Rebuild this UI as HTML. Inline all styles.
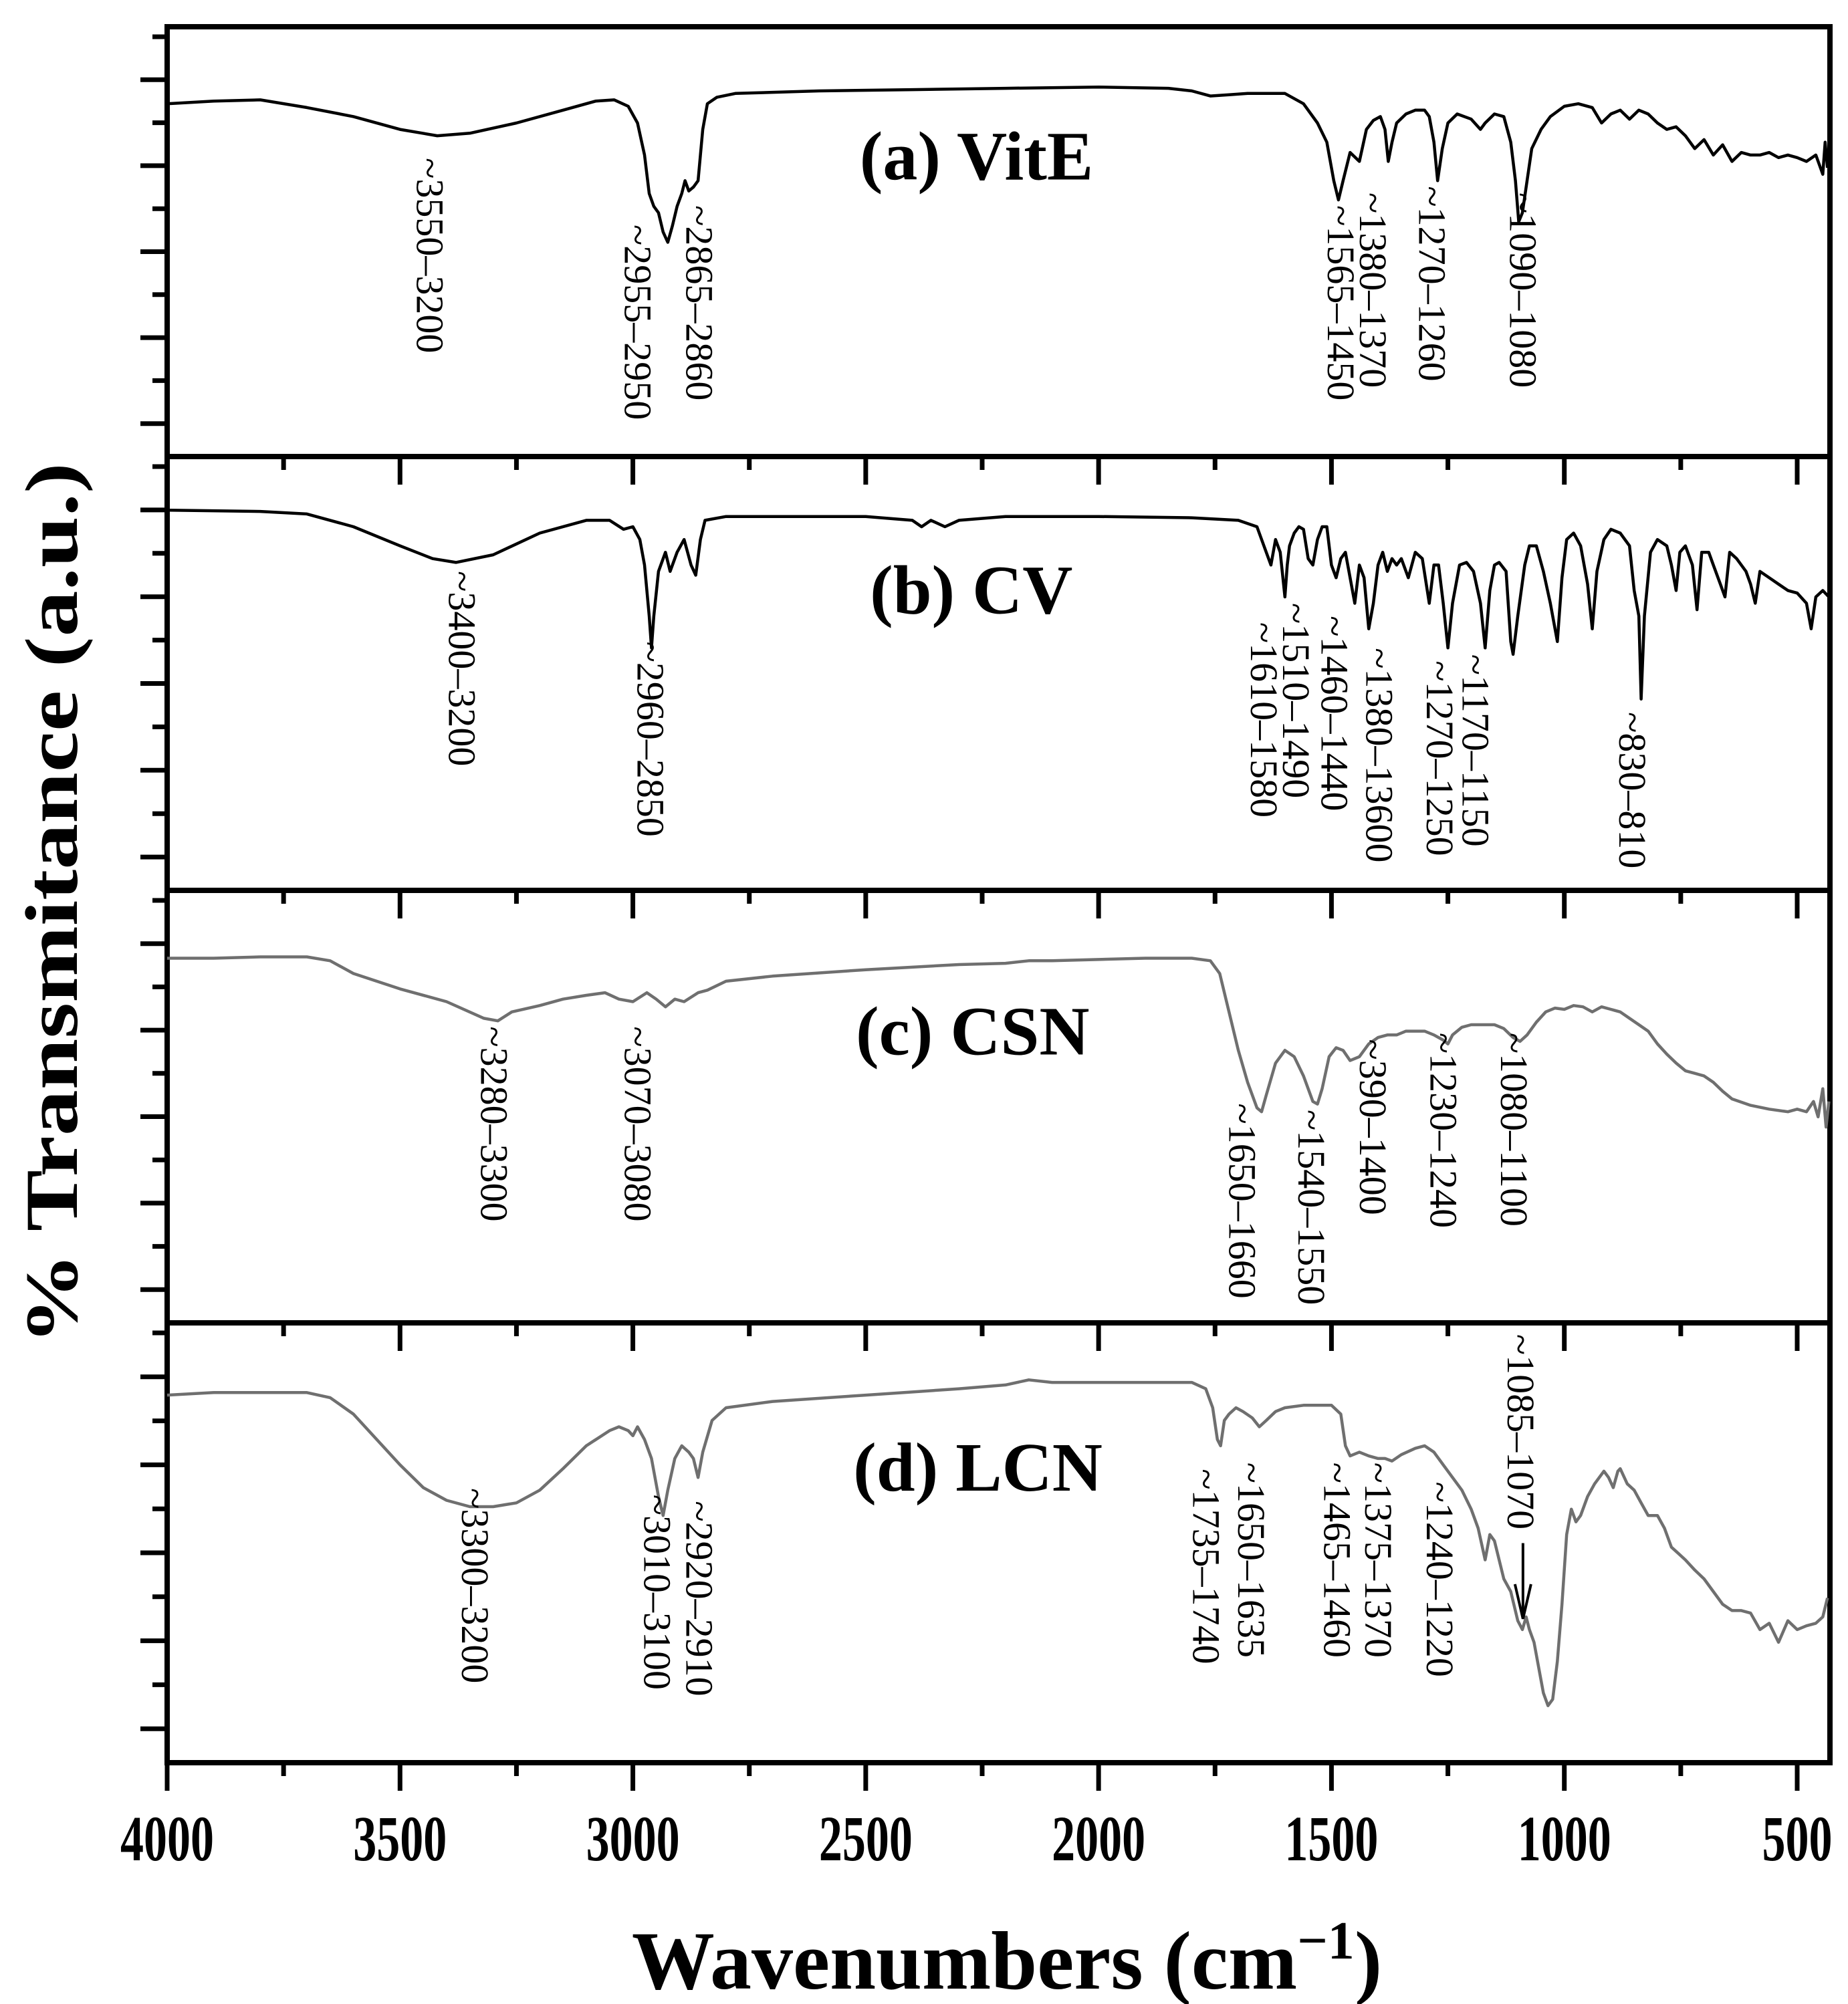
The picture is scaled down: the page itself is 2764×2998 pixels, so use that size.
<!DOCTYPE html>
<html><head><meta charset="utf-8"><style>
html,body{margin:0;padding:0;background:#fff;}
svg{display:block;}
text{font-family:"Liberation Serif",serif;fill:#000;}
</style></head><body>
<svg id="chart" width="2764" height="2998" viewBox="0 0 2764 2998" xmlns="http://www.w3.org/2000/svg">
<g id="frames"></g>
<g id="curves"></g>
<g id="ticks"></g>
<g id="labels"></g>
</svg>
<script>
// ---- data (wavenumber in cm-1, transmittance in a.u.) ----
const xTicks = [4000, 3500, 3000, 2500, 2000, 1500, 1000, 500];
const panelNames = ["(a) VitE", "(b) CV", "(c) CSN", "(d) LCN"];
const wnA = [4000,3900,3800,3700,3600,3500,3420,3350,3250,3150,3080,3040,3010,2990,2975,2965,2955,2945,2935,2925,2915,2905,2895,2888,2880,2870,2860,2850,2840,2820,2780,2600,2400,2200,2000,1850,1800,1760,1720,1680,1600,1560,1530,1510,1495,1485,1475,1460,1440,1425,1410,1395,1385,1378,1370,1360,1340,1320,1300,1290,1280,1272,1262,1250,1230,1200,1180,1170,1150,1130,1115,1105,1098,1090,1080,1070,1050,1030,1000,970,940,920,900,880,860,840,820,800,780,760,740,720,700,680,660,640,620,600,580,560,540,520,500,480,460,445,440,435];
const tA = [275,277,278,272,265,255,250,252,260,270,277,278,273,260,235,205,195,190,175,167,180,195,205,215,207,210,215,255,275,280,283,285,286,287,288,287,285,281,282,283,283,275,260,245,215,200,215,237,230,255,262,265,255,230,245,260,267,270,270,265,245,215,240,260,267,263,255,260,267,265,245,215,183,190,215,240,255,265,273,275,272,260,267,270,263,270,267,260,255,257,250,240,247,235,243,230,237,235,235,237,233,235,233,230,235,220,245,225];
const wnB = [4000,3800,3700,3600,3500,3430,3380,3300,3200,3100,3050,3020,3000,2985,2975,2965,2960,2955,2945,2930,2920,2905,2890,2875,2865,2855,2845,2800,2700,2500,2400,2380,2360,2330,2300,2200,2000,1800,1700,1660,1645,1630,1620,1610,1600,1595,1590,1580,1570,1560,1550,1540,1530,1520,1510,1500,1490,1480,1470,1460,1450,1440,1430,1420,1410,1400,1390,1380,1370,1360,1350,1335,1320,1305,1290,1280,1270,1260,1250,1240,1225,1210,1195,1180,1170,1160,1150,1140,1125,1115,1110,1100,1085,1075,1060,1045,1030,1015,1005,995,980,965,950,940,930,915,900,880,860,850,840,835,828,815,800,780,770,760,752,740,725,715,705,690,680,665,655,645,630,610,600,590,580,560,540,520,500,480,470,460,445,432];
const tB = [298,297,295,285,270,260,257,263,280,290,290,283,285,275,255,215,190,215,250,265,250,265,275,255,247,275,290,293,293,293,290,285,290,285,290,293,293,292,290,285,270,255,275,265,230,255,270,280,285,283,260,255,275,285,285,255,245,260,265,245,225,255,245,205,225,255,265,250,260,255,260,245,265,260,225,255,255,225,190,225,255,257,250,225,190,235,255,257,250,195,185,215,255,270,270,250,225,195,245,275,280,270,240,205,250,275,283,280,270,235,215,150,215,265,275,270,255,235,265,270,255,220,265,265,255,240,230,265,260,250,240,225,250,245,240,235,233,225,205,230,235,230];
const wnC = [4000,3900,3800,3700,3650,3600,3500,3400,3320,3290,3260,3200,3150,3100,3060,3030,3000,2970,2950,2930,2910,2890,2860,2840,2800,2700,2500,2300,2200,2150,2100,2000,1900,1800,1760,1740,1720,1700,1680,1660,1650,1640,1620,1600,1580,1560,1540,1530,1520,1505,1490,1475,1460,1440,1420,1400,1380,1360,1340,1300,1280,1260,1250,1240,1220,1200,1170,1150,1130,1110,1095,1080,1060,1040,1020,1000,980,960,940,920,900,880,860,840,820,800,780,760,740,720,700,680,660,640,600,560,520,500,480,465,455,445,438,432];
const tC = [285,285,286,286,283,273,261,251,238,236,243,248,253,256,258,253,251,258,253,247,253,251,258,260,267,271,276,280,281,283,283,284,285,285,283,273,243,213,188,168,165,178,203,213,208,193,173,171,183,208,215,213,205,208,218,223,225,225,228,228,225,221,218,225,231,233,233,233,230,223,220,225,235,243,246,245,248,247,243,247,245,243,238,233,228,218,210,203,197,195,193,188,181,175,170,167,165,167,165,173,161,183,153,173];
const wnD = [4000,3900,3800,3700,3650,3600,3550,3500,3450,3400,3350,3300,3250,3200,3150,3100,3050,3030,3010,3000,2990,2975,2960,2945,2935,2925,2910,2895,2880,2870,2860,2850,2830,2800,2700,2500,2300,2200,2150,2100,2000,1900,1800,1770,1755,1745,1738,1730,1720,1705,1690,1670,1655,1640,1620,1600,1560,1500,1480,1470,1460,1440,1420,1400,1385,1370,1350,1320,1300,1280,1260,1240,1220,1200,1185,1170,1160,1150,1140,1130,1115,1100,1090,1082,1075,1065,1055,1045,1035,1025,1015,1005,995,985,975,965,950,935,915,905,895,885,880,865,850,835,820,800,785,770,755,740,720,700,680,660,640,620,600,580,560,540,520,500,480,460,445,435];
const tD = [290,292,292,292,288,275,255,235,217,207,202,202,205,215,232,250,262,265,262,258,265,255,240,210,195,215,240,250,245,240,225,245,270,280,285,290,295,298,302,300,300,300,300,295,280,255,250,270,275,280,277,272,265,270,277,280,282,282,275,250,242,245,242,240,240,238,243,248,250,245,235,225,215,200,185,160,180,175,160,145,135,112,105,115,105,95,75,55,45,50,80,125,180,200,190,195,210,220,230,225,217,230,232,220,215,205,195,195,185,170,165,160,152,145,135,125,120,120,118,105,110,95,112,105,108,110,115,130];
const peakA = ["~3550–3200","~2955–2950","~2865–2860","~1565–1450","~1380–1370","~1270–1260","~1090–1080"];
const peakB = ["~3400–3200","~2960–2850","~1610–1580","~1510–1490","~1460–1440","~1380–13600","~1270–1250","~1170–1150","~830–810"];
const peakC = ["~3280–3300","~3070–3080","~1650–1660","~1540–1550","~390–1400","~1230–1240","~1080–1100"];
const peakD = ["~3300–3200","~3010–3100","~2920–2910","~1735–1740","~1650–1635","~1465–1460","~1375–1370","~1240–1220","~1085–1070"];

// ---- layout ----
const NS = "http://www.w3.org/2000/svg";
const L = 250, R = 2737;
const tops = [40, 683, 1332, 1979], bottomAll = 2637;
const domMax = [335, 340, 338, 347];
const sx = wn => L + (4000 - wn) * (2688 - L) / 3500;
function panelY(i, v) {
  const top = tops[i], bot = i < 3 ? tops[i + 1] : bottomAll;
  return bot - v * (bot - top) / domMax[i];
}
const S = 1.919; // label placement factor
function mk(tag, attrs, parent) {
  const e = document.createElementNS(NS, tag);
  for (const k in attrs) e.setAttribute(k, attrs[k]);
  parent.appendChild(e);
  return e;
}
const gF = document.getElementById('frames'), gC = document.getElementById('curves'),
      gT = document.getElementById('ticks'), gL = document.getElementById('labels');

const series = [[wnA, tA, '#000'], [wnB, tB, '#000'], [wnC, tC, '#6f6f6f'], [wnD, tD, '#6f6f6f']];
series.forEach((s, i) => {
  const d = s[0].map((w, j) => (j ? 'L' : 'M') + sx(w).toFixed(1) + ' ' + panelY(i, s[1][j]).toFixed(1)).join(' ');
  const p = mk('path', {d: d, fill: 'none', stroke: s[2], 'stroke-width': 4.5, 'stroke-linejoin': 'round'}, gC);
  
  
});

// frames and ticks
for (let i = 0; i < 4; i++) {
  const top = tops[i], bot = i < 3 ? tops[i + 1] : bottomAll, h = bot - top;
  const r = mk('rect', {x: L, y: top, width: R - L, height: h, fill: 'none', stroke: '#000', 'stroke-width': 8}, gF);
  
  
  for (let k = 0; k < 10; k++) {
    const y = top + 15 + k * h / 10;
    const len = k % 2 ? 40 : 22;
    const t = mk('line', {x1: L, x2: L - len, y1: y, y2: y, stroke: '#000', 'stroke-width': 7}, gT);
    
    
  }
  for (let w = 4000; w >= 500; w -= 250) {
    const x = sx(w), len = w % 500 === 0 ? 42 : 20;
    const t = mk('line', {x1: x, x2: x, y1: bot, y2: bot + len, stroke: '#000', 'stroke-width': 7}, gT);
    
    
  }
}
xTicks.forEach(w => {
  const t = mk('text', {x: sx(w), y: 2783, 'text-anchor': 'middle', 'font-size': 96, 'font-weight': 'bold', textLength: w >= 1000 ? 140 : 105, lengthAdjust: 'spacingAndGlyphs'}, gL);
  t.textContent = w;
  
  
});

// panel titles
const titlePos = [[670, 140], [678, 478], [667, 822], [665, 1162]];
panelNames.forEach((n, i) => {
  const t = mk('text', {x: titlePos[i][0] * S, y: titlePos[i][1] * S, 'font-size': 104, 'font-weight': 'bold'}, gL);
  t.textContent = n;
  
  
});

// peak labels (display coords x,y of rotated label start)
const posA = [[325,123],[487,175],[535,160],[1035,160],[1060,150],[1106,145],[1177,150]];
const posB = [[350,445],[497,500],[975,485],[1000,470],[1030,480],[1065,505],[1112,515],[1140,510],[1262,555]];
const posC = [[375,800],[487,800],[958,860],[1012,865],[1060,810],[1115,805],[1170,805]];
const posD = [[360,1160],[502,1165],[535,1170],[930,1145],[965,1140],[1032,1140],[1064,1140],[1112,1155],[1175,1040]];
[[peakA,posA],[peakB,posB],[peakC,posC],[peakD,posD]].forEach(([labs, pos], i) => {
  labs.forEach((s, j) => {
    const x = pos[j][0] * S, y = pos[j][1] * S;
    const t = mk('text', {x: x, y: y, 'font-size': 58, transform: `rotate(90 ${x} ${y})`}, gL);
    t.textContent = s;
    
    
  });
});
// arrow for 1085-1070
const ax = 1187 * S;
const a1 = mk('line', {x1: ax, x2: ax, y1: 1203 * S, y2: 1262 * S, stroke: '#000', 'stroke-width': 4}, gL);


const a2 = mk('path', {d: `M${ax - 12} ${1235 * S} L${ax} ${1262 * S} L${ax + 12} ${1235 * S}`, fill: 'none', stroke: '#000', 'stroke-width': 4}, gL);



// axis titles
const xt = mk('text', {x: 1506, y: 2975, 'text-anchor': 'middle', 'font-size': 124, 'font-weight': 'bold'}, gL);
xt.innerHTML = 'Wavenumbers (cm<tspan dy="-45" font-size="80">−1</tspan><tspan dy="45">)</tspan>';


const yt = mk('text', {x: 0, y: 0, 'text-anchor': 'middle', 'font-size': 112, 'font-weight': 'bold', transform: 'translate(115 1352) rotate(-90)', textLength: 1320, lengthAdjust: 'spacingAndGlyphs'}, gL);
yt.textContent = '% Transmitance (a.u.)';


</script>
</body></html>
